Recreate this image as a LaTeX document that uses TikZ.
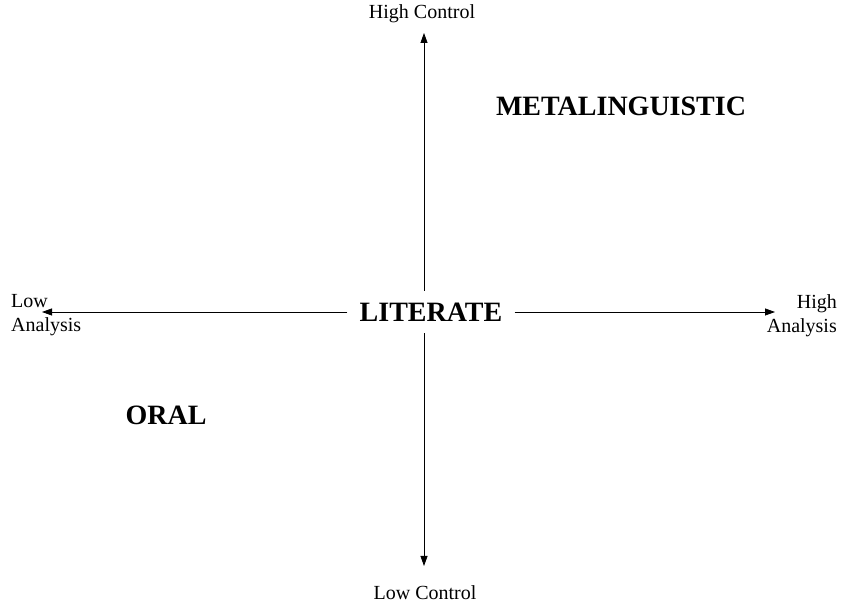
\documentclass[tikz,border=0pt]{standalone}
\usepackage{fontspec}
\setmainfont{Liberation Serif}
\usetikzlibrary{arrows.meta,positioning}

\begin{document}
\begin{tikzpicture}[x=1pt, y=1pt,
    axis/.style={-{Triangle[length=10pt,width=7pt]}, line width=0.8pt},
    lbl/.style={font=\fontsize{20}{24}\selectfont, inner sep=0pt},
    region/.style={font=\fontsize{28}{32}\selectfont\bfseries, inner sep=0pt},
    hub/.style={font=\fontsize{28}{32}\selectfont\bfseries, inner sep=12pt}
]
\useasboundingbox (0,0) rectangle (843,604);
\node[hub] (L) at (431,292) {LITERATE};
\coordinate (up) at (424,571);
\coordinate (down) at (424,38);
\coordinate (left) at (42,292);
\coordinate (right) at (775,292);

\node[lbl, anchor=base] (hc) at (422,585) {High Control};
\node[lbl, anchor=base] (lc) at (425,4) {Low Control};
\node[lbl, align=left, anchor=north west] (la) at (11,309.5) {Low\\Analysis};
\node[lbl, align=right, anchor=north east] (ha) at (837,309.5) {High\\Analysis};
\node[region, anchor=base] (M) at (621,488) {METALINGUISTIC};
\node[region, anchor=base] (O) at (166,179) {ORAL};

\draw[axis] (L.north -| up) -- (up);
\draw[axis] (L.south -| down) -- (down);
\draw[axis] (L.west) -- (left);
\draw[axis] (L.east) -- (right);
\end{tikzpicture}
\end{document}
